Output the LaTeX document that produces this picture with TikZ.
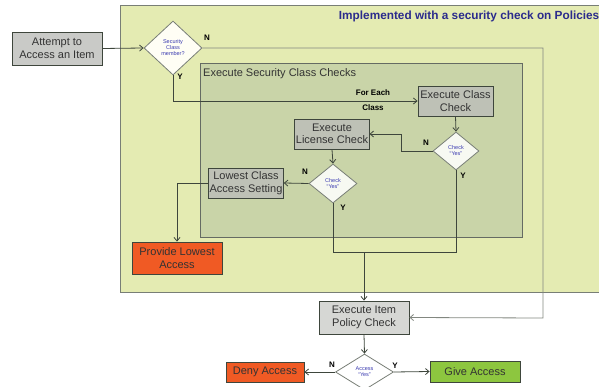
\documentclass[tikz,border=0pt]{standalone}
\usepackage{fontspec}
\setmainfont{Liberation Sans}
\usetikzlibrary{shapes.geometric,arrows.meta}
\definecolor{panelY}{HTML}{E4EBB2}
\definecolor{panelG}{HTML}{C9D4A8}
\definecolor{boxG}{HTML}{BEC1B6}
\definecolor{boxL}{HTML}{D6D7D4}
\definecolor{orng}{HTML}{F05A24}
\definecolor{grn}{HTML}{8DC63F}
\definecolor{lineC}{HTML}{3E463C}
\definecolor{dtext}{HTML}{2B2B8C}
\definecolor{dblue}{HTML}{3A3AB0}
\definecolor{btext}{HTML}{333333}
\tikzset{
  box/.style={draw=lineC, line width=0.9pt, fill=boxG, rectangle, minimum width=#1, align=center, font=\fontsize{11}{12.5}\selectfont, text=btext, inner sep=1pt},
  box/.default=74pt,
  dec/.style={draw=lineC!70, line width=0.8pt, diamond, fill=#1, align=center, inner sep=0pt, font=\fontsize{5.5}{6}\selectfont\color{dblue}},
  lab/.style={font=\bfseries\fontsize{8}{9}\selectfont, inner sep=0pt},
  conn/.style={draw=lineC, line width=0.8pt},
  arr/.style={conn, -{Straight Barb[length=3.5pt,width=6pt]}}
}
\begin{document}
\begin{tikzpicture}[x=1pt,y=-1pt]
\useasboundingbox (0,0) rectangle (599,387);
\clip (0,0) rectangle (599,387);
% panels
\draw[draw=lineC!70, line width=0.9pt, fill=panelY] (120,5) rectangle (606,292);
\draw[draw=lineC!80, line width=0.9pt, fill=panelG] (200,63) rectangle (522,237);
\node[anchor=east, font=\bfseries\fontsize{11.8}{13}\selectfont, text=dtext, inner sep=0pt] (title) at (599.5,16) {Implemented with a security check on Policies};
\node[anchor=west, font=\fontsize{11}{12}\selectfont, text=btext, inner sep=0pt] (esc) at (203,73.5) {Execute Security Class Checks};
% nodes
\node[box=90pt, fill=boxL!85!gray, minimum height=33pt] (attempt) at (57,48.5) {Attempt to\\Access an Item};
\node[dec=yellow!4, minimum width=58pt, minimum height=54pt] (d1) at (173,48) {Security\\Class\\member?};
\node[box=75pt, minimum height=30pt] (ecc) at (455.5,101) {Execute Class\\Check};
\node[dec=white!85!panelG, minimum width=46pt, minimum height=38pt] (d2) at (456,151) {Check\\``Yes''};
\node[box=74pt, minimum height=30pt] (elc) at (332,134) {Execute\\License Check};
\node[dec=white!85!panelG, minimum width=48pt, minimum height=39pt] (d3) at (333,183.5) {Check\\``Yes''};
\node[box=74pt, minimum height=30pt] (lcas) at (246,183) {Lowest Class\\Access Setting};
\node[box=90pt, fill=orng, minimum height=32pt] (pla) at (177,258) {Provide Lowest\\Access};
\node[box=90pt, fill=boxL, minimum height=33pt] (eipc) at (364,317.5) {Execute Item\\Policy Check};
\node[dec=white, minimum width=58pt, minimum height=36pt] (d4) at (364.5,372) {Access\\``Yes''};
\node[box=78pt, fill=orng, minimum height=20pt] (deny) at (265,372) {Deny Access};
\node[box=90pt, fill=grn, minimum height=21pt] (give) at (475,371.5) {Give Access};
% coordinates
\coordinate (n1a) at (543,48);
\coordinate (n1b) at (543,318);
\coordinate (n2a) at (401,151);
\coordinate (n2b) at (401,134);
\coordinate (l1) at (177,183);
\coordinate (ya) at (333,252);
\coordinate (yb) at (456,252);
\coordinate (yj) at (364,252);
% connectors
\draw[arr] (attempt.east) -- (d1.west);
\draw[arr, draw=lineC!65] (d1.east) -- (n1a) -- (n1b) -- (eipc.east);
\node[lab] (ln1) at (207,38) {N};
\draw[arr] (d1.south) |- (ecc.west);
\node[lab] (ly1) at (180,77) {Y};
\node[lab] (fe1) at (373,93) {For Each};
\node[lab] (fe2) at (373,108) {Class};
\draw[arr] (ecc.south) -- (d2.north);
\draw[arr] (d2.west) -- (n2a) -- (n2b) -- (elc.east);
\node[lab] (ln2) at (426,143) {N};
\draw[arr] (elc.south) -- (d3.north);
\draw[arr] (d3.west) -- (lcas.east);
\node[lab] (ln3) at (305,172) {N};
\draw[arr] (lcas.west) -- (l1) -- (pla.north);
\draw[conn] (d3.south) -- (ya) -- (yb) -- (d2.south);
\node[lab] (ly2) at (463,176) {Y};
\node[lab] (ly3) at (343,208) {Y};
\draw[arr] (yj) -- (eipc.north);
\draw[arr] (eipc.south) -- (d4.north);
\draw[arr] (d4.west) -- (deny.east);
\node[lab] (ln4) at (332,365) {N};
\draw[arr] (d4.east) -- (give.west);
\node[lab] (ly4) at (395,366) {Y};
\end{tikzpicture}
\end{document}
